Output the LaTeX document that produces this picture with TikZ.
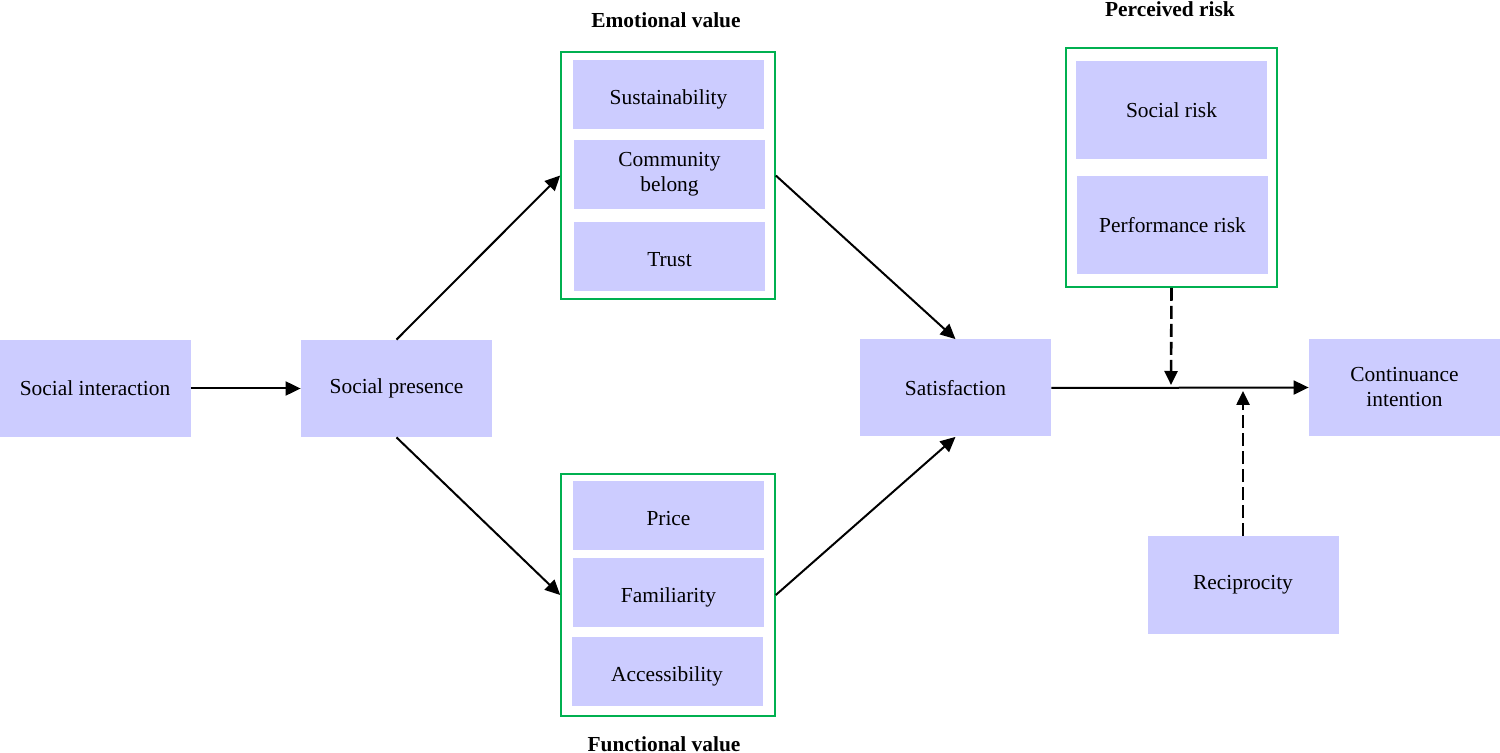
\documentclass[tikz,border=0pt]{standalone}
\usepackage{fontspec}
\setmainfont{Liberation Serif}
\usetikzlibrary{arrows.meta}
\definecolor{boxfill}{HTML}{CCCCFF}
\definecolor{grpgreen}{HTML}{00B050}
\begin{document}
\begin{tikzpicture}[x=0.5pt,y=-0.5pt,
  every node/.style={font=\fontsize{10.7}{12.5}\selectfont, inner sep=0pt},
  bigbox/.style={fill=boxfill, minimum width=95.5pt, minimum height=48.5pt, align=center},
  smallbox/.style={fill=boxfill, minimum width=95.5pt, minimum height=34.5pt, align=center},
  lowtext/.style={text height=10.3pt, text depth=0pt},
  riskbox/.style={fill=boxfill, minimum width=95.5pt, minimum height=49pt, align=center},
  grp/.style={draw=grpgreen, line width=0.8pt, minimum width=107pt},
  ttl/.style={font=\fontsize{10.7}{12.5}\selectfont\bfseries},
  arr/.style={line width=1pt, -{Triangle[length=7.5pt,width=7pt]}},
  darr/.style={line width=1.3pt, dash pattern=on 6.5pt off 2.5pt, -{Triangle[length=7pt,width=6.5pt]}}
]
\useasboundingbox (0,0) rectangle (1500,753);

% main boxes
\node[bigbox] (si) at (95,388.5) {Social interaction};
\node[bigbox] (sp) at (396.5,388.5) {Social presence};
\node[bigbox] (sat) at (955.5,388) {Satisfaction};
\node[bigbox] (ci) at (1404.5,387.5) {Continuance\\intention};
\node[bigbox] (rec) at (1243,585) {Reciprocity};

% emotional value group
\node[grp, minimum height=123.5pt] (emo) at (668,175.5) {};
\node[smallbox, lowtext] (sus) at (668.5,94.5) {Sustainability};
\node[smallbox] (com) at (669.5,174.5) {Community\\belong};
\node[smallbox, lowtext] (tru) at (669.5,256.5) {Trust};
\node[ttl] (emot) at (666,20) {Emotional value};

% functional value group
\node[grp, minimum height=121pt] (fun) at (668,595) {};
\node[smallbox, lowtext] (pri) at (668.5,515.5) {Price};
\node[smallbox, lowtext] (fam) at (668.5,592.5) {Familiarity};
\node[smallbox, lowtext] (acc) at (667,671.5) {Accessibility};
\node[ttl] (funt) at (664,744) {Functional value};

% perceived risk group
\node[grp, minimum width=105.5pt, minimum height=119.5pt] (risk) at (1171.5,167.5) {};
\node[riskbox] (sr) at (1171.5,110) {Social risk};
\node[riskbox] (pr) at (1172.5,225) {Performance risk};
\node[ttl] (riskt) at (1170,9) {Perceived risk};

% connectors
\coordinate (m1) at (1171,385);
\coordinate (m2) at (1243,391);
\draw[arr] (si.east) -- (sp.west);
\draw[arr] (sp.north) -- (emo.west);
\draw[arr] (sp.south) -- (fun.west);
\draw[arr] (emo.east) -- (sat.north);
\draw[arr] (fun.east) -- (sat.south);
\draw[arr] (sat.east) -- (ci.west);
\draw[darr] (risk.south) -- (m1);
\draw[darr] (rec.north) -- (m2);
\end{tikzpicture}
\end{document}
